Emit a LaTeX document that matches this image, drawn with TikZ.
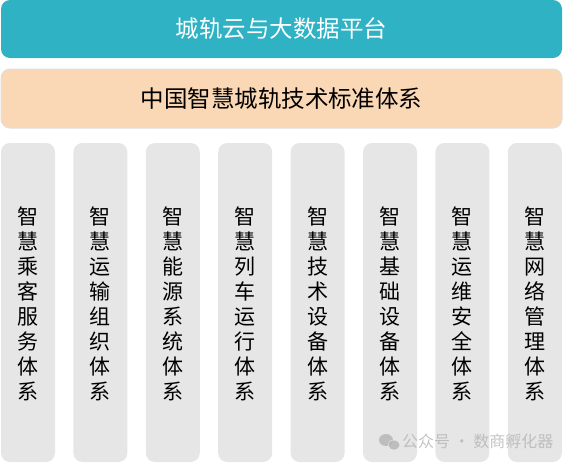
\documentclass[tikz,border=0pt]{standalone}
\usepackage{fontspec}
\setmainfont{Noto Sans CJK SC}
\definecolor{cloudteal}{HTML}{2EB2C4}
\definecolor{stdpeach}{HTML}{FAD7B5}
\definecolor{colgray}{HTML}{E6E6E6}
\definecolor{markgray}{HTML}{B4B4B4}
\begin{document}
\begin{tikzpicture}[x=1pt,y=-1pt]
		\tikzset{bar/.style = {shape=rectangle,rounded corners=9pt,minimum width=561pt,inner sep=0pt}}
		\tikzset{column/.style = {shape=rectangle,fill=colgray,rounded corners=9pt,minimum width=54pt,minimum height=319pt,inner sep=0pt}}
		\tikzset{coltext/.style = {align=center,font=\fontsize{21}{25}\selectfont}}
		\useasboundingbox (0,0) rectangle (563,464);
		\node[bar,fill=cloudteal,minimum height=58pt,text=white,font=\fontsize{23.5}{28}\selectfont] (cloud) at (281.5,29) {城轨云与大数据平台};
		\node[bar,fill=stdpeach,draw=black!12,line width=1pt,minimum height=59pt,font=\fontsize{23.5}{28}\selectfont] (std) at (281.5,98.5) {中国智慧城轨技术标准体系};
		\foreach \t [count=\i from 0] in {智\\慧\\乘\\客\\服\\务\\体\\系,
			智\\慧\\运\\输\\组\\织\\体\\系,
			智\\慧\\能\\源\\系\\统\\体\\系,
			智\\慧\\列\\车\\运\\行\\体\\系,
			智\\慧\\技\\术\\设\\备\\体\\系,
			智\\慧\\基\\础\\设\\备\\体\\系,
			智\\慧\\运\\维\\安\\全\\体\\系,
			智\\慧\\网\\络\\管\\理\\体\\系}
		{
			\node[column] (col\i) at (28+72.4*\i,302.5) {};
			\node[coltext] (txt\i) at (28+72.4*\i,304) {\t};
		}
		% watermark
		\fill[markgray,opacity=.8] (386,440) ellipse (7pt and 6pt);
		\fill[markgray,opacity=.8,draw=white] (394,445) ellipse (6pt and 5pt);
		\node[text=markgray,opacity=.8,font=\fontsize{16}{18}\selectfont,anchor=west,inner sep=0pt] (mark) at (402,441) {公众号 · 数商孵化器};
	\end{tikzpicture}
\end{document}
